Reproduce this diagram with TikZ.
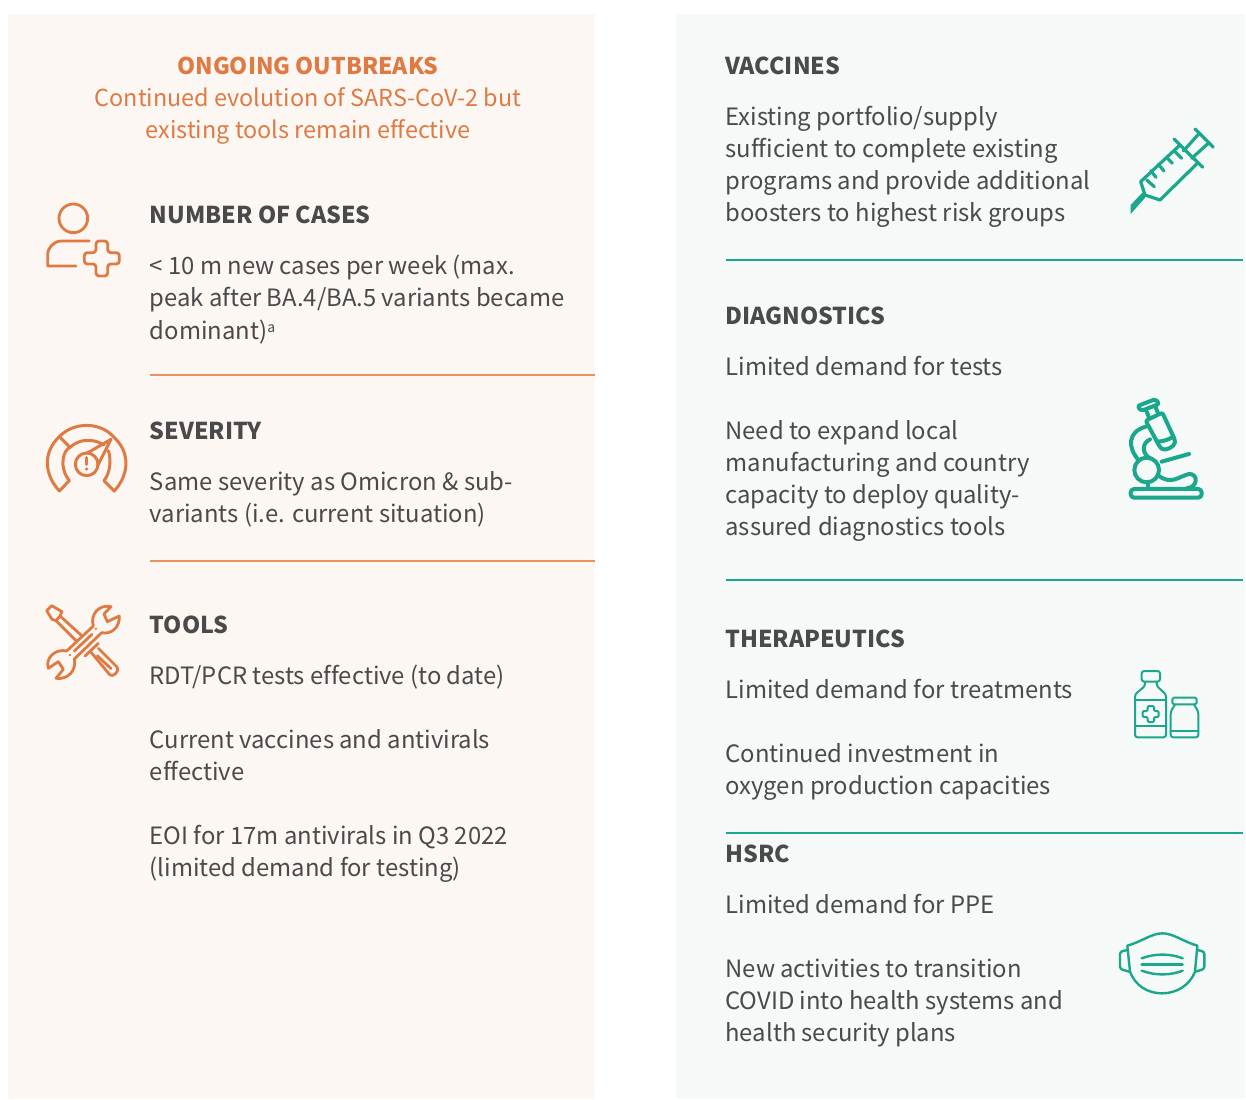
\documentclass[tikz,border=0pt]{standalone}
\usepackage{fontspec}
\setmainfont[Ligatures=NoCommon]{Noto Sans CJK SC}
\definecolor{lpanel}{HTML}{FDF7F4}
\definecolor{rpanel}{HTML}{F5F9F8}
\definecolor{org}{HTML}{DE7A42}
\definecolor{orgline}{HTML}{E8925F}
\definecolor{tl}{HTML}{1BA78C}
\definecolor{ink}{HTML}{4A4A4A}
\tikzset{
 x=1pt,y=-1pt,
 body/.style={anchor=base west,inner sep=0,outer sep=0,text=ink,font=\fontsize{23.85}{30}\selectfont},
 head/.style={anchor=base west,inner sep=0,outer sep=0,text=ink,font=\fontsize{23.2}{30}\selectfont\bfseries},
 ttl/.style={anchor=base,inner sep=0,outer sep=0,yshift=-1pt,text=org,font=\fontsize{23.4}{30}\selectfont},
 orule/.style={draw=orgline,line width=2.8pt},
 trule/.style={draw=tl,line width=2.6pt},
 oic/.style={draw=org,line width=1pt,line cap=round,line join=round},
 tic/.style={draw=tl,line width=1pt,line cap=round,line join=round},
 zoomed/.style={shift={(#1)},x=0.3333pt,y=-0.3333pt},
}
\begin{document}
\begin{tikzpicture}
\useasboundingbox (0,0) rectangle (1246,1099);
\fill[lpanel] (8,14) rectangle (595,1099);
\fill[rpanel] (676,14) rectangle (1245,1099);
% left title
\node[ttl,font=\fontsize{23}{30}\selectfont\bfseries] (t1) at (308,74) {ONGOING OUTBREAKS};
\node[ttl] (t2) at (308,106) {Continued evolution of SARS-CoV-2 but};
\node[ttl] (t3) at (308,138) {existing tools remain effective};
% left text
\node[head] (a0) at (149.8,224) {NUMBER OF CASES};
\node[body] (a1) at (149.8,274) {< 10 m new cases per week (max.};
\node[body] (a2) at (149.8,306) {peak after BA.4/BA.5 variants became};
\node[body] (a3) at (149.8,339) {dominant)\raisebox{7pt}{\fontsize{14}{14}\selectfont a}};
\node[head] (b0) at (149.8,439) {SEVERITY};
\node[body] (b1) at (149.8,490) {Same severity as Omicron \& sub-};
\node[body] (b2) at (149.8,522) {variants (i.e. current situation)};
\node[head] (c0) at (149.8,633) {TOOLS};
\node[body] (c1) at (149.8,684) {RDT/PCR tests effective (to date)};
\node[body] (c2) at (149.8,748) {Current vaccines and antivirals};
\node[body] (c3) at (149.8,780) {effective};
\node[body] (c4) at (149.8,844) {EOI for 17m antivirals in Q3 2022};
\node[body] (c5) at (149.8,876) {(limited demand for testing)};
\draw[orule] (150,375) -- (595,375);
\draw[orule] (150,561) -- (595,561);
% right text
\node[head] (d0) at (725.5,75) {VACCINES};
\node[body] (d1) at (725.5,126) {Existing portfolio/supply};
\node[body] (d2) at (725.5,158) {sufficient to complete existing};
\node[body] (d3) at (725.5,190) {programs and provide additional};
\node[body] (d4) at (725.5,222) {boosters to highest risk groups};
\node[head] (e0) at (725.5,324) {DIAGNOSTICS};
\node[body] (e1) at (725.5,375) {Limited demand for tests};
\node[body] (e2) at (725.5,439) {Need to expand local};
\node[body] (e3) at (725.5,471) {manufacturing and country};
\node[body] (e4) at (725.5,503) {capacity to deploy quality-};
\node[body] (e5) at (725.5,535) {assured diagnostics tools};
\node[head] (f0) at (725.5,647) {THERAPEUTICS};
\node[body] (f1) at (725.5,698) {Limited demand for treatments};
\node[body] (f2) at (725.5,762) {Continued investment in};
\node[body] (f3) at (725.5,794) {oxygen production capacities};
\node[head] (g0) at (725.5,862) {HSRC};
\node[body] (g1) at (725.5,913) {Limited demand for PPE};
\node[body] (g2) at (725.5,977) {New activities to transition};
\node[body] (g3) at (725.5,1009) {COVID into health systems and};
\node[body] (g4) at (725.5,1041) {health security plans};
\draw[trule] (726,260) -- (1243,260);
\draw[trule] (726,580) -- (1243,580);
\draw[trule] (726,833) -- (1243,833);
% person icon
\begin{scope}[zoomed={30,190},oic,line width=2.8pt]
\draw (130,85) circle[radius=43];
\draw (178,153) -- (95,153) arc[start angle=90,end angle=180,x radius=42,y radius=-42] -- (53,228) -- (138,228);
\draw[rounded corners=3pt] (198,153) -- (233,153) -- (233,188) -- (268,188) -- (268,222) -- (233,222) -- (233,258) -- (198,258) -- (198,222) -- (163,222) -- (163,188) -- (198,188) -- cycle;
\end{scope}
% gauge icon
\begin{scope}[zoomed={30,410},oic,line width=3pt]
\draw (118,212) -- (88,243) .. controls (40,190) and (40,125) .. (88,80) .. controls (130,35) and (210,35) .. (250,80) .. controls (300,125) and (300,190) .. (253,243) -- (222,212);
\draw (118,212) .. controls (85,170) and (100,120) .. (120,112) .. controls (150,85) and (190,85) .. (222,105);
\draw (222,212) .. controls (240,190) and (245,150) .. (235,122);
\draw (88,80) -- (120,112);
\draw (170,163) circle[radius=34];
\draw (172,129) -- (243,88) -- (204,165);
\draw (170,143) -- (170,163);
\fill[org,draw=none] (170,177) circle[radius=5];
\end{scope}
% tools icon
\begin{scope}[zoomed={30,590},oic,line width=2.8pt]
\draw (50,62) -- (65,47) -- (96,65) -- (90,78) -- (78,92) -- (66,88) -- cycle;
\draw (90,78) -- (153,135);
\draw (78,92) -- (138,152);
\draw (165,198) -- (205,160);
\draw (180,183) -- (240,255) .. controls (250,262) and (268,245) .. (262,232) -- (205,175);
\draw (202,197) -- (243,236);
\draw (110,183) -- (190,108) .. controls (180,75) and (205,42) .. (243,50) -- (222,72) -- (232,95) -- (268,78) .. controls (270,110) and (245,135) .. (215,128) -- (133,207) .. controls (140,240) and (115,270) .. (78,265) -- (100,238) -- (85,215) -- (55,235) .. controls (45,205) and (75,175) .. (110,183);
\draw (133,183) -- (186,133);
\fill[org,draw=none] (198,116) circle[radius=4];
\fill[org,draw=none] (120,195) circle[radius=4];
\end{scope}
% syringe
\begin{scope}[zoomed={1120,115},tic,line width=3.2pt]
\draw (180,90) -- (62,200) -- (75,240) -- (120,255) -- (232,145);
\fill[tl,draw=none] (32,270) -- (32,297) -- (78,245) -- (68,232) -- cycle;
\draw (162,72) -- (248,157);
\draw (190,108) -- (238,55);
\draw (215,130) -- (265,85);
\draw (225,42) -- (280,97);
\draw (165,110) -- (185,130);
\draw (140,127) -- (157,145);
\draw (115,148) -- (132,168);
\draw (92,167) -- (108,187);
\draw (80,195) -- (103,215);
\end{scope}
% microscope
\begin{scope}[zoomed={1115,390},tic,line width=4pt]
\draw[rounded corners=2pt] (68,48) -- (122,27) -- (132,42) -- (78,63) -- cycle;
\draw (95,65) -- (103,85);
\draw (122,52) -- (130,72);
\draw[rounded corners=2pt] (92,92) -- (142,68) -- (180,150) .. controls (180,170) and (150,185) .. (135,172) -- cycle;
\draw (125,155) .. controls (140,155) and (160,150) .. (175,140);
\draw (92,110) .. controls (40,125) and (35,170) .. (72,212);
\draw (105,148) .. controls (80,160) and (80,190) .. (105,205);
\draw (95,240) circle[radius=37];
\draw (140,215) -- (222,192);
\draw (132,258) .. controls (170,285) and (190,260) .. (222,252) .. controls (250,250) and (250,292) .. (215,295);
\draw (100,278) -- (100,295);
\draw[rounded corners=3.5pt] (47,297) rectangle (260,323);
\end{scope}
% bottles
\begin{scope}[zoomed={1120,660},tic,line width=2pt]
\draw[rounded corners=2.5pt] (65,33) rectangle (120,65);
\draw[rounded corners=2.5pt] (75,65) -- (75,78) -- (45,103) -- (45,232) -- (138,232) -- (138,103) -- (110,78) -- (110,65);
\draw (45,120) -- (138,120);
\draw (45,197) -- (138,197);
\draw[rounded corners=1.2pt] (83,138) -- (102,138) -- (102,153) -- (116,153) -- (116,171) -- (102,171) -- (102,186) -- (83,186) -- (83,171) -- (68,171) -- (68,153) -- (83,153) -- cycle;
\draw[rounded corners=1.5pt] (157,113) rectangle (230,133);
\draw[rounded corners=2.5pt] (165,133) -- (152,155) -- (152,232) -- (235,232) -- (235,155) -- (222,133);
\draw (152,212) -- (235,212);
\end{scope}
% mask
\begin{scope}[zoomed={1110,925},tic,line width=2.4pt]
\draw (52,62) .. controls (95,50) and (125,25) .. (157,25) .. controls (190,25) and (220,50) .. (262,62) -- (255,140) .. controls (240,180) and (200,205) .. (157,205) .. controls (110,205) and (75,180) .. (60,140) -- cycle;
\draw[rounded corners=2.5pt] (52,75) -- (30,80) -- (30,132) -- (58,140);
\draw[rounded corners=2.5pt] (262,75) -- (283,80) -- (283,132) -- (256,140);
\draw (95,100) .. controls (135,85) and (180,85) .. (218,100);
\draw (95,118) -- (218,118);
\draw (95,137) .. controls (135,152) and (180,152) .. (218,137);
\end{scope}
\end{tikzpicture}
\end{document}
